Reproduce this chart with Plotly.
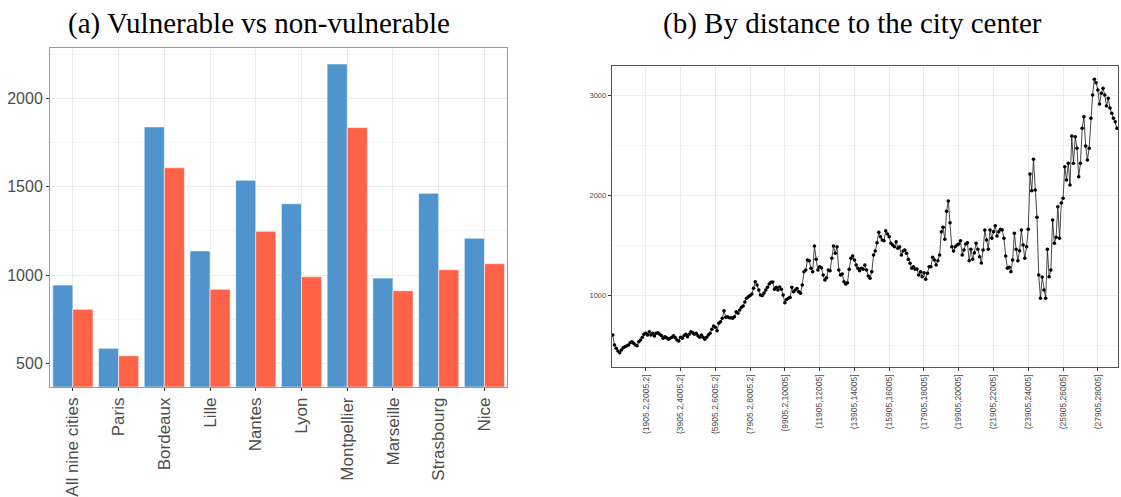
import plotly.graph_objects as go

# ---------------- Panel (a): vulnerable vs non-vulnerable ----------------
cities = ["All nine cities", "Paris", "Bordeaux", "Lille", "Nantes", "Lyon",
          "Montpellier", "Marseille", "Strasbourg", "Nice"]
vulnerable = [943, 585, 1838, 1136, 1536, 1403, 2194, 983, 1462, 1208]
non_vulnerable = [806, 543, 1607, 919, 1247, 990, 1834, 911, 1030, 1064]

# ---------------- Panel (b): by distance to the city center ----------------
price_by_distance = [
    600, 500, 467, 440, 423, 450, 473, 483, 490, 500,
    523, 533, 517, 500, 493, 533, 550, 577, 607, 617,
    600, 633, 600, 617, 590, 617, 623, 607, 593, 567,
    583, 573, 557, 567, 577, 593, 573, 550, 540, 577,
    567, 593, 607, 583, 607, 633, 623, 607, 617, 593,
    577, 600, 577, 557, 577, 600, 617, 657, 690, 677,
    643, 717, 733, 767, 843, 777, 783, 773, 773, 767,
    783, 833,
    817, 850, 877, 890, 930, 967, 983, 995, 1010, 1067,
    1133, 1100, 1050, 1000, 995, 1020, 1050, 1077, 1110, 1127,
    1130, 1057, 1077, 1050, 1080, 1057, 1000, 923, 955, 967,
    975, 1077, 1033, 1050, 1065, 1033, 1017, 1100, 1233, 1250,
    1350, 1343, 1267, 1233, 1490, 1357, 1250, 1283, 1273, 1200,
    1150, 1173, 1250, 1243, 1367, 1490, 1417, 1483, 1250, 1200,
    1210, 1133, 1110, 1123, 1257, 1367, 1390, 1350, 1300, 1267,
    1243, 1267,
    1257, 1300, 1250, 1190, 1167, 1233, 1400, 1440, 1523, 1627,
    1583, 1550, 1543, 1643, 1610, 1583, 1517, 1500, 1483, 1533,
    1467, 1483, 1400, 1440, 1450, 1417, 1357, 1317, 1267, 1283,
    1257, 1260, 1200, 1233, 1183, 1223, 1157, 1217, 1283, 1283,
    1377, 1350, 1300, 1343, 1400, 1633, 1677, 1557, 1837, 1940,
    1723, 1483,
    1440, 1483, 1500, 1510, 1543, 1400, 1450, 1510, 1523, 1343,
    1457, 1357, 1423, 1517, 1457, 1383, 1320, 1450, 1650, 1550,
    1457, 1650, 1567, 1633, 1693, 1590, 1633, 1657, 1650, 1567,
    1390, 1267, 1277, 1233, 1350, 1617, 1457, 1343, 1443, 1650,
    1500, 1367, 1483, 1657,
    2210, 2043, 2357, 2050, 1777, 1200, 967, 1180, 1050, 967,
    1457, 1183, 1250, 1750, 1517, 1577, 1883, 1567, 1920, 1967,
    2283, 2150, 2317, 2100, 2590, 2317, 2583, 2467, 2183, 2317,
    2667, 2783, 2490, 2350, 2467, 2767, 3000, 3157, 3123, 3050,
    2910, 3017, 3067, 3000, 2890, 2967, 2870, 2817, 2767, 2733,
    2667,
]

BIN_START = 5.2
BIN_WIDTH = 100


def interval_label(k):
    lo = BIN_START + BIN_WIDTH * k
    hi = lo + BIN_WIDTH
    return f"({lo:.5g},{hi:.5g}]"


distance_bins = [interval_label(k) for k in range(len(price_by_distance))]

distance_tick_labels = [
    "(1905.2,2005.2]", "(3905.2,4005.2]", "(5905.2,6005.2]", "(7905.2,8005.2]",
    "(9905.2,10005]", "(11905,12005]", "(13905,14005]", "(15905,16005]",
    "(17905,18005]", "(19905,20005]", "(21905,22005]", "(23905,24005]",
    "(25905,26005]", "(27905,28005]",
]

left_major = [500, 1000, 1500, 2000]
left_minor = [750, 1250, 1750, 2250]
right_major = [1000, 2000, 3000]
right_minor = [500, 1500, 2500]

W, H = 1121, 497
GRID = "#ebebeb"
MINOR = "#f4f4f4"
TICKFONT = "#4d4d4d"

fig = go.Figure()
fig.add_trace(go.Bar(x=cities, y=vulnerable, name="Vulnerable",
                     marker=dict(color="#4F94CD", line=dict(color="white", width=0.6)),
                     xaxis="x", yaxis="y", showlegend=False))
fig.add_trace(go.Bar(x=cities, y=non_vulnerable, name="Non-vulnerable",
                     marker=dict(color="#FF6347", line=dict(color="white", width=0.6)),
                     xaxis="x", yaxis="y", showlegend=False))
fig.add_trace(go.Scatter(x=distance_bins, y=price_by_distance, mode="lines+markers",
                         line=dict(color="#1a1a1a", width=0.8),
                         marker=dict(color="black", size=3.6),
                         xaxis="x2", yaxis="y2", showlegend=False))

fig.update_layout(
    width=W, height=H,
    margin=dict(l=0, r=0, t=0, b=0),
    paper_bgcolor="white", plot_bgcolor="white",
    barmode="group", bargap=0.12, bargroupgap=0,
    font=dict(family="Liberation Sans, Arial, sans-serif", color=TICKFONT),
    xaxis=dict(domain=[50 / W, 507.3 / W], type="category",
               tickangle=-90, tickfont=dict(size=17, color=TICKFONT),
               showgrid=True, gridcolor=GRID, gridwidth=1,
               ticks="outside", ticklen=3, tickcolor="#333333",
               showline=True, mirror=True, linecolor="#9a9a9a", linewidth=1,
               zeroline=False),
    yaxis=dict(domain=[1 - 386.7 / H, 1 - 47.7 / H], range=[368, 2286],
               tickmode="array", tickvals=left_major,
               tickfont=dict(size=16, color=TICKFONT),
               showgrid=True, gridcolor=GRID, gridwidth=1,
               minor=dict(tickmode="array", tickvals=left_minor, showgrid=True,
                          gridcolor=MINOR, gridwidth=0.6, ticks=""),
               ticks="outside", ticklen=3, tickcolor="#333333",
               showline=True, mirror=True, linecolor="#9a9a9a", linewidth=1,
               zeroline=False),
    xaxis2=dict(domain=[611.7 / W, 1118 / W], type="category",
                range=[-0.6, len(price_by_distance) - 0.4],
                tickmode="array", tickvals=distance_tick_labels, ticktext=distance_tick_labels,
                tickangle=-90, tickfont=dict(size=8.5, color=TICKFONT),
                showgrid=True, gridcolor=GRID, gridwidth=1,
                ticks="outside", ticklen=3, tickcolor="#333333",
                showline=True, mirror=True, linecolor="#555555", linewidth=1,
                zeroline=False, anchor="y2"),
    yaxis2=dict(domain=[1 - 367 / H, 1 - 66 / H], range=[280, 3290],
                tickmode="array", tickvals=right_major,
                tickfont=dict(size=7.5, color=TICKFONT),
                showgrid=True, gridcolor=GRID, gridwidth=1,
                minor=dict(tickmode="array", tickvals=right_minor, showgrid=True,
                           gridcolor=MINOR, gridwidth=0.6, ticks=""),
                ticks="outside", ticklen=3, tickcolor="#333333",
                showline=True, mirror=True, linecolor="#555555", linewidth=1,
                zeroline=False, anchor="x2"),
    annotations=[
        dict(text="(a) Vulnerable vs non-vulnerable", xref="paper", yref="paper",
             x=259 / W, y=1 - 24 / H, xanchor="center", yanchor="middle", showarrow=False,
             font=dict(family="Liberation Serif, DejaVu Serif, serif", size=29, color="black")),
        dict(text="(b) By distance to the city center", xref="paper", yref="paper",
             x=852 / W, y=1 - 24 / H, xanchor="center", yanchor="middle", showarrow=False,
             font=dict(family="Liberation Serif, DejaVu Serif, serif", size=29, color="black")),
    ],
)

fig.write_html("out.html", config={"displayModeBar": False},
               post_script="document.body.style.margin='0';")
